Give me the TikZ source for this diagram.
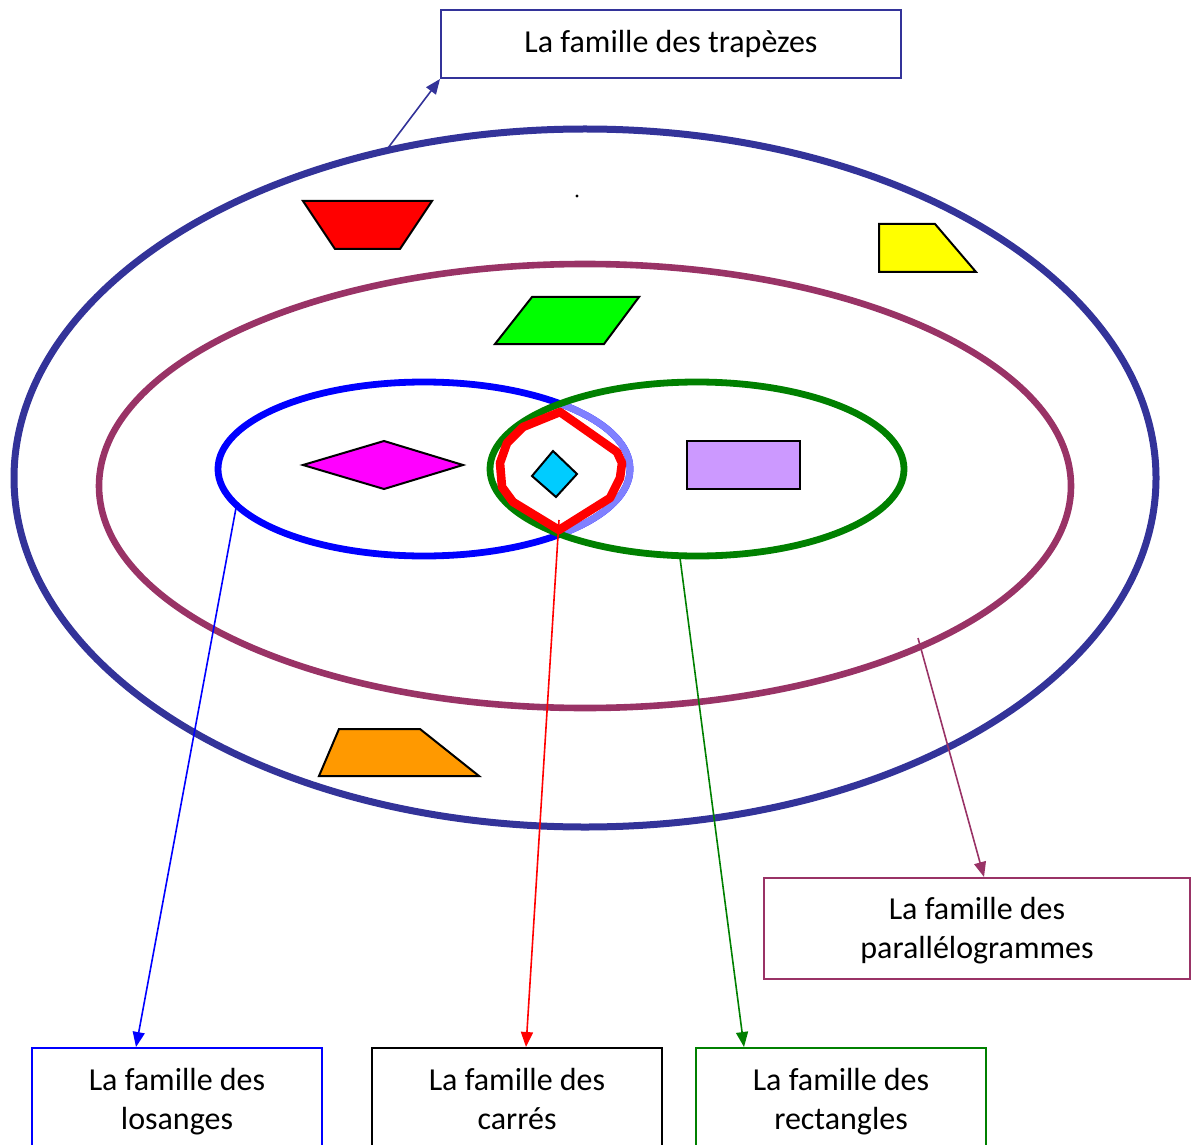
\documentclass[tikz,border=0pt]{standalone}
\usepackage{fontspec}
\setmainfont{Carlito}
\usetikzlibrary{arrows.meta,calc}
\definecolor{trapc}{HTML}{333399}
\definecolor{paralc}{HTML}{993366}
\definecolor{losc}{HTML}{0000FF}
\definecolor{losl}{HTML}{8080FF}
\definecolor{rectc}{HTML}{008000}
\definecolor{carc}{HTML}{FF0000}
\definecolor{cyanf}{HTML}{00CCFF}
\definecolor{magf}{HTML}{FF00FF}
\definecolor{lilaf}{HTML}{CC99FF}
\definecolor{greenf}{HTML}{00FF00}
\definecolor{yellowf}{HTML}{FFFF00}
\definecolor{orangef}{HTML}{FF9900}
\newcommand\mytopstrut{\rule{0pt}{16.6pt}}
\begin{document}
\begin{tikzpicture}[x=0.5pt,y=-0.5pt,
  label box/.style={draw, line width=1pt, fill=white, inner sep=0pt, align=center,
    font=\fontsize{16}{19.5}\selectfont},
  shapefill/.style={draw=black, line width=1pt, line join=miter},
  arr/.style={line width=0.8pt, -{Triangle[length=7.5pt,width=6pt]}}]
\useasboundingbox (0,0) rectangle (1192,1144);
\clip (0,0) rectangle (1192,1144);

% family ellipses
\draw[trapc, line width=3.5pt] (585,478) ellipse [x radius=285.5pt, y radius=174.5pt];
\draw[paralc, line width=3.3pt] (585,486) ellipse [x radius=243pt, y radius=111pt];
\draw[losc, line width=3.4pt] (424,469) ellipse [x radius=103pt, y radius=43.5pt];
\begin{scope}
  \clip (697,469) ellipse [x radius=103.5pt, y radius=43.5pt];
  \draw[losl, line width=3.4pt] (424,469) ellipse [x radius=103pt, y radius=43.5pt];
\end{scope}
\draw[rectc, line width=3.4pt] (697,469) ellipse [x radius=103.5pt, y radius=43.5pt];
\draw[carc, line width=4.3pt, line join=round]
  (560,412) -- (617,452) -- (622,463) -- (620,478) -- (610,498) -- (559,530)
  -- (513,502) -- (502,487) -- (500,463) -- (507,443) -- (523,427) -- cycle;

% shapes
\filldraw[shapefill, fill=carc] (303,201) -- (432,201) -- (400,249) -- (335,249) -- cycle;
\filldraw[shapefill, fill=yellowf] (879,224) -- (935,224) -- (976,272) -- (879,272) -- cycle;
\filldraw[shapefill, fill=greenf] (532,297) -- (639,297) -- (604,344) -- (495,344) -- cycle;
\filldraw[shapefill, fill=magf] (303,465) -- (384,441) -- (463,465) -- (384,489) -- cycle;
\filldraw[shapefill, fill=cyanf] (553,451) -- (577,474) -- (556,497) -- (532,476) -- cycle;
\filldraw[shapefill, fill=lilaf] (687,441) rectangle (800,489);
\filldraw[shapefill, fill=orangef] (339,729) -- (420,729) -- (479,776) -- (319,776) -- cycle;
\fill (577,196) circle [radius=0.8pt];

% labels
\node[label box, draw=trapc, minimum width=230pt, minimum height=34pt] (trap) at (671,44)
  {\rule{0pt}{14.6pt}La famille des trapèzes\strut};
\node[label box, draw=paralc, minimum width=213pt, minimum height=50.5pt] (paral) at (977,928.5)
  {\mytopstrut La famille des\strut\\parallélogrammes\strut};
\node[label box, draw=losc, minimum width=145pt, minimum height=51pt] (los) at (177,1099)
  {\mytopstrut La famille des\strut\\losanges\strut};
\node[label box, draw=black, minimum width=145pt, minimum height=51pt] (car) at (517,1099)
  {\mytopstrut La famille des\strut\\carrés\strut};
\node[label box, draw=rectc, minimum width=145pt, minimum height=51pt] (rect) at (841,1099)
  {\mytopstrut La famille des\strut\\rectangles\strut};

% connector starts
\coordinate (trapS) at (388,148);
\coordinate (paralS) at (918,638);
\coordinate (losS) at (236,508);
\coordinate (carS) at (559,520);
\coordinate (rectS) at (680,558);

\draw[arr, trapc] (trapS) -- (trap.south west);
\draw[arr, paralc] (paralS) -- ($(paral.north west)+(221,0)$);
\draw[arr, losc] (losS) -- ($(los.north west)+(105,0)$);
\draw[arr, carc] (carS) -- ($(car.north west)+(155,0)$);
\draw[arr, rectc] (rectS) -- ($(rect.north west)+(49,0)$);
\end{tikzpicture}
\end{document}
